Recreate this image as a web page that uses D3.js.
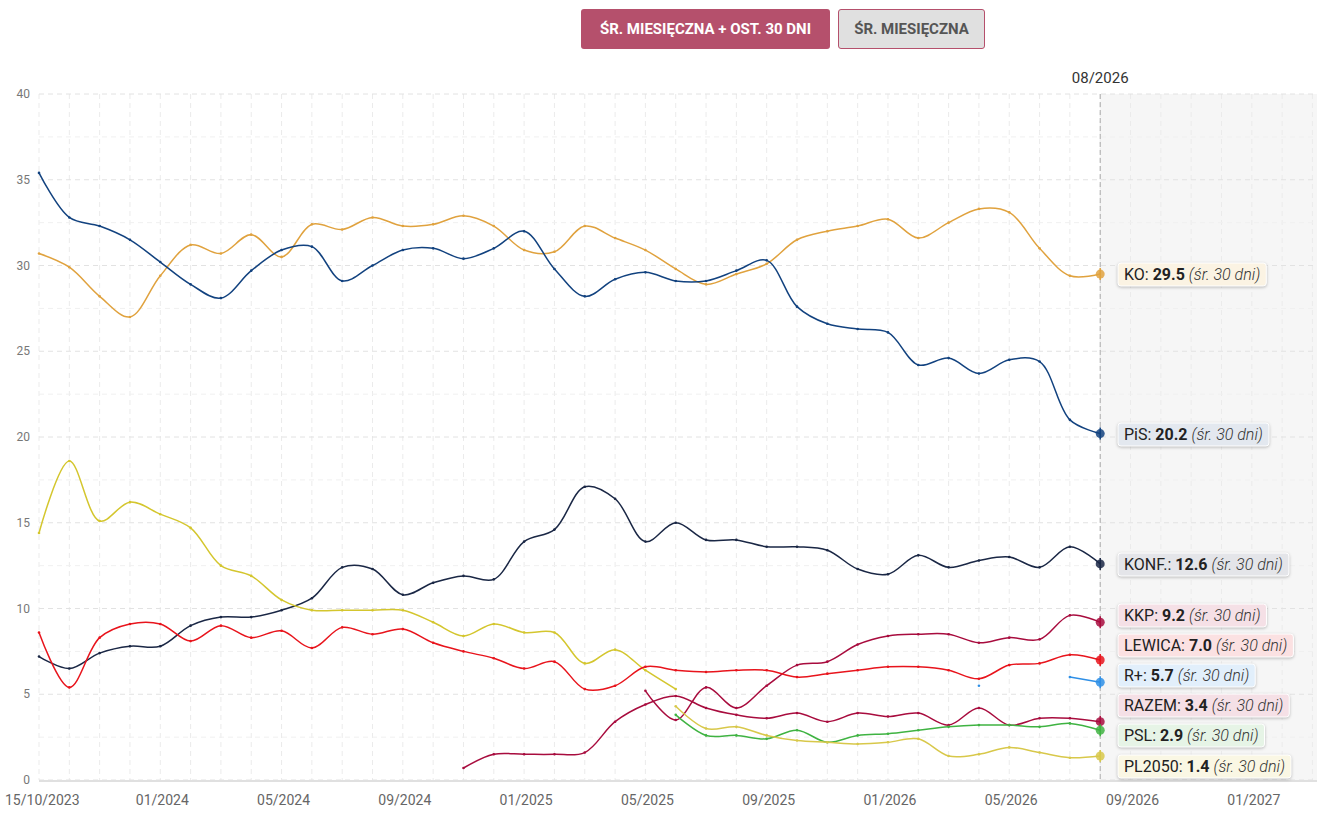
<!DOCTYPE html>
<html><head><meta charset="utf-8">
<script src="https://cdn.jsdelivr.net/npm/d3@7"></script>
<style>
body{margin:0;background:#fff;font-family:Roboto,sans-serif}
.btn{position:absolute;top:9px;height:40px;line-height:40px;font-size:15px;font-weight:bold;text-align:center;border-radius:3px;font-family:"Liberation Sans Narrow",Roboto,sans-serif}
</style></head><body>
<div class="btn" style="left:581px;width:249px;background:#b5506c;color:#fff">ŚR. MIESIĘCZNA + OST. 30 DNI</div>
<div class="btn" style="left:838px;width:145px;background:#e0e0e0;color:#555;border:1px solid #b5506c;height:38px;line-height:38px">ŚR. MIESIĘCZNA</div>
<svg id="chart" width="1317" height="825" style="display:block"></svg>
<script>
// month index 0 = 09/2023 ... 35 = 08/2026
const tickLabels = [[0,"15/10/2023"],[4,"01/2024"],[8,"05/2024"],[12,"09/2024"],[16,"01/2025"],[20,"05/2025"],[24,"09/2025"],[28,"01/2026"],[32,"05/2026"],[36,"09/2026"],[40,"01/2027"]];
const yTicks = [0,5,10,15,20,25,30,35,40];
const N = null;
const pis = [35.4,32.8,32.3,31.5,30.2,28.9,28.1,29.7,30.9,31.1,29.1,30.0,30.9,31.0,30.4,31.0,32.0,29.8,28.2,29.2,29.6,29.1,29.1,29.7,30.3,27.6,26.6,26.3,26.1,24.2,24.6,23.7,24.5,24.4,21.0,20.2];
const ko = [30.7,29.9,28.2,27.0,29.4,31.2,30.7,31.8,30.5,32.4,32.1,32.8,32.3,32.4,32.9,32.3,30.9,30.8,32.3,31.6,30.9,29.8,28.9,29.5,30.1,31.5,32.0,32.3,32.7,31.6,32.5,33.3,33.1,31.0,29.4,29.5];
const konf = [7.2,6.5,7.4,7.8,7.8,9.0,9.5,9.5,9.9,10.6,12.4,12.3,10.8,11.5,11.9,11.7,13.9,14.6,17.1,16.4,13.9,15.0,14.0,14.0,13.6,13.6,13.4,12.3,12.0,13.1,12.4,12.8,13.0,12.4,13.6,12.6];
const td = [14.4,18.6,15.1,16.2,15.5,14.7,12.5,11.9,10.5,9.9,9.9,9.9,9.9,9.2,8.4,9.1,8.6,8.6,6.8,7.6,6.4,5.3,N,N,N,N,N,N,N,N,N,N,N,N,N,N];
const pl2050 = [N,N,N,N,N,N,N,N,N,N,N,N,N,N,N,N,N,N,N,N,N,4.3,3.0,3.1,2.6,2.3,2.2,2.1,2.2,2.4,1.4,1.5,1.9,1.6,1.3,1.4];
const psl = [N,N,N,N,N,N,N,N,N,N,N,N,N,N,N,N,N,N,N,N,N,3.8,2.6,2.6,2.4,2.9,2.2,2.6,2.7,2.9,3.1,3.2,3.2,3.1,3.3,2.9];
const lewica = [8.6,5.4,8.3,9.1,9.1,8.1,9.0,8.3,8.7,7.7,8.9,8.5,8.8,8.0,7.5,7.1,6.5,6.9,5.3,5.5,6.6,6.4,6.3,6.4,6.4,6.0,6.2,6.4,6.6,6.6,6.4,5.9,6.7,6.8,7.3,7.0];
const kkp = [N,N,N,N,N,N,N,N,N,N,N,N,N,N,N,N,N,N,N,N,5.2,3.5,5.4,4.2,5.5,6.7,6.9,7.9,8.4,8.5,8.5,8.0,8.3,8.2,9.6,9.2];
const razem = [N,N,N,N,N,N,N,N,N,N,N,N,N,N,0.7,1.5,1.5,1.5,1.6,3.4,4.4,4.9,4.2,3.8,3.6,3.9,3.4,3.9,3.7,3.9,3.2,4.2,3.2,3.6,3.6,3.4];
const rplus = [N,N,N,N,N,N,N,N,N,N,N,N,N,N,N,N,N,N,N,N,N,N,N,N,N,N,N,N,N,N,N,5.5,N,N,6.0,5.7];

const series = [
  {name:"KO", v:ko, c:"#e0a23e", bg:"#fbf3e3", ly:274},
  {name:"PiS", v:pis, c:"#12427f", bg:"#e3e8ef", ly:434},
  {name:"KONF.", v:konf, c:"#1a2745", bg:"#e4e5e9", ly:564},
  {name:"TD", v:td, c:"#d4c62e"},
  {name:"KKP", v:kkp, c:"#a80c3e", bg:"#f5e0e6", ly:615},
  {name:"LEWICA", v:lewica, c:"#e8141c", bg:"#fbe1e2", ly:645},
  {name:"R+", v:rplus, c:"#2e8fe6", bg:"#e2effb", ly:675},
  {name:"RAZEM", v:razem, c:"#a80c3e", bg:"#f5e0e6", ly:705},
  {name:"PSL", v:psl, c:"#3fb342", bg:"#e6f4e6", ly:735},
  {name:"PL2050", v:pl2050, c:"#d8c84a", bg:"#faf7e4", ly:766}
];

const svg = d3.select("#chart");
const x = d3.scaleLinear().domain([0,42.15]).range([39,1317]);
const y = d3.scaleLinear().domain([0,40]).range([780,94]);
const last = 35;

svg.append("rect").attr("x",x(last)).attr("y",y(40)).attr("width",1317-x(last)).attr("height",y(0)-y(40)).attr("fill","#f6f6f6");

// grid
svg.append("g").selectAll("line").data(d3.range(0,43)).join("line")
  .attr("x1",d=>x(d)).attr("x2",d=>x(d)).attr("y1",y(40)).attr("y2",y(0))
  .attr("stroke","#ebebeb").attr("stroke-dasharray","5,4");
svg.append("g").selectAll("line").data(d3.range(0,41,2.5)).join("line")
  .attr("x1",39).attr("x2",1317).attr("y1",d=>y(d)).attr("y2",d=>y(d))
  .attr("stroke",d=>d%5===0?"#e2e2e2":"#f0f0f0").attr("stroke-dasharray","5,4");
svg.append("line").attr("x1",39).attr("x2",1317).attr("y1",y(0)+1).attr("y2",y(0)+1).attr("stroke","#e0e0e0").attr("stroke-width",2);

const tf = '"Liberation Sans Narrow",Roboto,sans-serif';
svg.append("g").selectAll("text").data(yTicks).join("text")
  .attr("x",30).attr("y",d=>y(d)+4).attr("text-anchor","end").attr("fill","#777").attr("font-size",12).attr("font-family",tf).text(d=>d);
svg.append("g").selectAll("text").data(tickLabels).join("text")
  .attr("x",d=>d[0]===0?5:x(d[0])+2).attr("y",805).attr("text-anchor",d=>d[0]===0?"start":"middle")
  .attr("fill","#666").attr("font-size",14).attr("font-family",tf).text(d=>d[1]);

// current line
svg.append("line").attr("x1",x(last)).attr("x2",x(last)).attr("y1",y(40)).attr("y2",y(0)).attr("stroke","#aaa").attr("stroke-dasharray","5,3");
svg.append("text").attr("x",x(last)).attr("y",83).attr("text-anchor","middle").attr("fill","#333").attr("font-size",15).attr("font-family",tf).text("08/2026");

const line = d3.line().defined(d=>d!=null).x((d,i)=>x(i)).y(d=>y(d)).curve(d3.curveCatmullRom.alpha(0.5));
series.forEach(s=>{
  svg.append("path").attr("d",line(s.v)).attr("fill","none").attr("stroke",s.c).attr("stroke-width",1.5);
  svg.append("g").selectAll("circle").data(s.v.map((v,i)=>[i,v]).filter(d=>d[1]!=null)).join("circle")
    .attr("cx",d=>x(d[0])).attr("cy",d=>y(d[1])).attr("r",d=>d[0]===last?4.5:1.3).attr("fill",s.c)
    .attr("opacity",d=>d[0]===last?0.85:1);
  if(s.ly){
    const v = s.v[last];
    svg.append("line").attr("x1",x(last)).attr("x2",x(last)).attr("y1",y(v)-6).attr("y2",y(v)+6).attr("stroke",s.c).attr("stroke-width",1.5);
    const g = svg.append("g");
    const t = g.append("text").attr("x",1124).attr("y",s.ly+6).attr("font-size",16).attr("fill","#222");
    t.append("tspan").text(s.name+": ");
    t.append("tspan").attr("font-weight","bold").text(v.toFixed(1)+" ");
    t.append("tspan").attr("font-style","italic").attr("font-weight",300).attr("fill","#333").text("(śr. 30 dni)");
    const bb = t.node().getBBox();
    g.insert("rect","text").attr("x",1118).attr("y",s.ly-11).attr("width",bb.width+12).attr("height",23).attr("rx",3)
      .attr("fill",s.bg).attr("stroke","#fff").style("filter","drop-shadow(0 1px 1.5px rgba(0,0,0,0.25))");
  }
});
</script></body></html>
